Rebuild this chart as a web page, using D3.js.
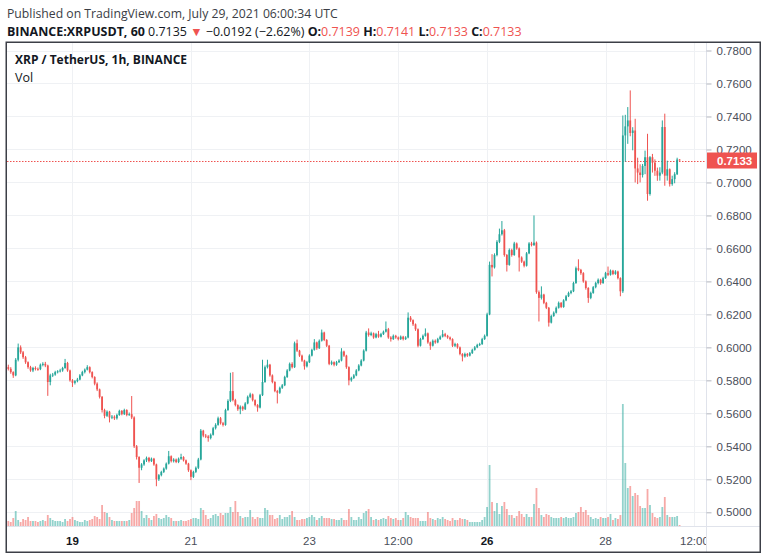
<!DOCTYPE html>
<html><head><meta charset="utf-8">
<script src="https://cdn.jsdelivr.net/npm/d3@7"></script>
<style>body{margin:0;background:#fff}svg{display:block}</style>
</head><body>
<svg id="chart" width="768" height="560"></svg>
<script>
// ---------- DATA (hourly candles, BINANCE:XRPUSDT) ----------
const startTime = Date.UTC(2021, 6, 17, 22); // first candle
const firstOpen = 0.5880;
const closes = [
0.5870,0.5850,0.5830,0.5925,0.6000,0.5970,0.5940,0.5910,0.5880,0.5860,
0.5875,0.5870,0.5868,0.5895,0.5900,0.5890,0.5790,0.5830,0.5835,0.5850,
0.5855,0.5860,0.5875,0.5905,0.5860,0.5800,0.5785,0.5795,0.5805,0.5830,
0.5850,0.5865,0.5880,0.5850,0.5820,0.5780,0.5745,0.5700,0.5620,0.5585,
0.5610,0.5575,0.5580,0.5570,0.5590,0.5615,0.5595,0.5620,0.5590,0.5595,
0.5575,0.5400,0.5335,0.5270,0.5290,0.5315,0.5330,0.5310,0.5325,0.5290,
0.5200,0.5225,0.5245,0.5265,0.5295,0.5340,0.5310,0.5320,0.5305,0.5325,
0.5335,0.5315,0.5295,0.5255,0.5215,0.5245,0.5270,0.5320,0.5495,0.5465,
0.5460,0.5450,0.5470,0.5510,0.5530,0.5570,0.5540,0.5530,0.5620,0.5675,
0.5735,0.5680,0.5650,0.5625,0.5640,0.5625,0.5660,0.5700,0.5715,0.5680,
0.5650,0.5635,0.5710,0.5790,0.5880,0.5895,0.5830,0.5790,0.5735,0.5725,
0.5755,0.5770,0.5820,0.5860,0.5900,0.5880,0.6025,0.5980,0.5950,0.5920,
0.5885,0.5910,0.5950,0.5985,0.6030,0.5995,0.6040,0.6090,0.6045,0.6010,
0.5900,0.5910,0.5895,0.5910,0.5920,0.5975,0.5950,0.5880,0.5800,0.5815,
0.5830,0.5860,0.5890,0.5920,0.5980,0.6090,0.6075,0.6085,0.6060,0.6080,
0.6065,0.6080,0.6095,0.6110,0.6060,0.6050,0.6070,0.6060,0.6050,0.6065,
0.6050,0.6060,0.6180,0.6165,0.6140,0.6110,0.6010,0.6050,0.6070,0.6085,
0.6030,0.6010,0.6040,0.6030,0.6050,0.6065,0.6080,0.6070,0.6060,0.6050,
0.6010,0.6020,0.6000,0.5960,0.5945,0.5960,0.5950,0.5965,0.5985,0.6000,
0.6015,0.6020,0.6050,0.6070,0.6200,0.6500,0.6485,0.6560,0.6640,0.6686,
0.6710,0.6560,0.6500,0.6590,0.6560,0.6630,0.6600,0.6545,0.6520,0.6495,
0.6570,0.6630,0.6620,0.6635,0.6335,0.6300,0.6320,0.6270,0.6240,0.6150,
0.6190,0.6210,0.6240,0.6270,0.6245,0.6285,0.6310,0.6330,0.6340,0.6390,
0.6480,0.6470,0.6450,0.6400,0.6360,0.6300,0.6330,0.6365,0.6390,0.6410,
0.6390,0.6420,0.6450,0.6440,0.6465,0.6445,0.6460,0.6420,0.6340,0.7285,
0.7340,0.7376,0.7300,0.7315,0.7085,0.7060,0.7045,0.7100,0.7153,0.6930,
0.7153,0.7120,0.7071,0.7041,0.7060,0.7336,0.7041,0.7080,0.6990,0.7020,
0.7050,0.7139,0.7133
];
const highs = [
0.5895,0.5880,0.5855,0.5935,0.6023,0.6012,0.5978,0.5948,0.5915,0.5888,
0.5882,0.5885,0.5878,0.5902,0.5910,0.5912,0.5895,0.5840,0.5845,0.5858,
0.5862,0.5870,0.5882,0.5930,0.5912,0.5865,0.5808,0.5802,0.5815,0.5838,
0.5858,0.5872,0.5892,0.5885,0.5855,0.5825,0.5788,0.5750,0.5705,0.5628,
0.5618,0.5615,0.5590,0.5588,0.5598,0.5622,0.5620,0.5628,0.5625,0.5605,
0.5705,0.5582,0.5408,0.5340,0.5298,0.5322,0.5338,0.5336,0.5332,0.5330,
0.5295,0.5232,0.5252,0.5272,0.5302,0.5372,0.5345,0.5328,0.5326,0.5332,
0.5355,0.5340,0.5320,0.5300,0.5260,0.5252,0.5278,0.5330,0.5505,0.5500,
0.5475,0.5468,0.5478,0.5518,0.5540,0.5580,0.5578,0.5548,0.5628,0.5685,
0.5846,0.5850,0.5688,0.5655,0.5648,0.5646,0.5668,0.5708,0.5725,0.5720,
0.5685,0.5656,0.5718,0.5925,0.5890,0.5925,0.5900,0.5836,0.5795,0.5742,
0.5762,0.5778,0.5828,0.5868,0.5908,0.5910,0.6035,0.6047,0.5985,0.5956,
0.5925,0.5918,0.5958,0.5992,0.6050,0.6035,0.6048,0.6108,0.6095,0.6050,
0.6015,0.5920,0.5915,0.5918,0.5928,0.5995,0.5980,0.5955,0.5885,0.5822,
0.5838,0.5868,0.5898,0.5928,0.5988,0.6100,0.6115,0.6095,0.6090,0.6088,
0.6100,0.6088,0.6102,0.6157,0.6118,0.6068,0.6078,0.6076,0.6066,0.6072,
0.6070,0.6068,0.6212,0.6190,0.6170,0.6145,0.6115,0.6058,0.6078,0.6115,
0.6090,0.6035,0.6048,0.6048,0.6058,0.6072,0.6105,0.6088,0.6076,0.6066,
0.6055,0.6028,0.6025,0.6005,0.5965,0.5968,0.5966,0.5972,0.5992,0.6008,
0.6022,0.6028,0.6058,0.6078,0.6210,0.6520,0.6565,0.6570,0.6650,0.6720,
0.6766,0.6718,0.6566,0.6600,0.6598,0.6640,0.6636,0.6606,0.6552,0.6526,
0.6578,0.6638,0.6640,0.6800,0.6642,0.6345,0.6370,0.6325,0.6276,0.6245,
0.6198,0.6218,0.6248,0.6278,0.6275,0.6292,0.6318,0.6338,0.6348,0.6398,
0.6490,0.6534,0.6476,0.6456,0.6406,0.6365,0.6338,0.6372,0.6398,0.6418,
0.6416,0.6428,0.6458,0.6490,0.6472,0.6470,0.6468,0.6465,0.6425,0.7406,
0.7410,0.7457,0.7558,0.7335,0.7386,0.7150,0.7110,0.7112,0.7193,0.7295,
0.7160,0.7173,0.7140,0.7090,0.7092,0.7376,0.7417,0.7132,0.7085,0.7041,
0.7062,0.7150,0.7141
];
const lows = [
0.5860,0.5840,0.5815,0.5825,0.5915,0.5960,0.5930,0.5900,0.5870,0.5852,
0.5850,0.5860,0.5858,0.5862,0.5885,0.5880,0.5706,0.5770,0.5820,0.5828,
0.5842,0.5848,0.5852,0.5870,0.5852,0.5792,0.5760,0.5775,0.5788,0.5800,
0.5825,0.5842,0.5860,0.5842,0.5812,0.5770,0.5735,0.5690,0.5605,0.5570,
0.5578,0.5545,0.5565,0.5560,0.5562,0.5585,0.5588,0.5590,0.5582,0.5585,
0.5565,0.5390,0.5320,0.5178,0.5255,0.5282,0.5305,0.5302,0.5305,0.5282,
0.5158,0.5190,0.5218,0.5238,0.5258,0.5290,0.5302,0.5302,0.5298,0.5298,
0.5318,0.5308,0.5288,0.5245,0.5195,0.5208,0.5238,0.5262,0.5315,0.5455,
0.5450,0.5428,0.5442,0.5465,0.5502,0.5525,0.5532,0.5520,0.5525,0.5615,
0.5668,0.5672,0.5642,0.5615,0.5595,0.5615,0.5620,0.5655,0.5692,0.5672,
0.5642,0.5610,0.5630,0.5705,0.5785,0.5872,0.5822,0.5782,0.5728,0.5660,
0.5718,0.5748,0.5765,0.5815,0.5855,0.5872,0.5875,0.5972,0.5942,0.5912,
0.5865,0.5878,0.5905,0.5945,0.5980,0.5985,0.5990,0.6035,0.6038,0.6002,
0.5892,0.5892,0.5885,0.5888,0.5905,0.5915,0.5942,0.5870,0.5770,0.5792,
0.5808,0.5825,0.5855,0.5885,0.5915,0.5975,0.6065,0.6068,0.6052,0.6055,
0.6058,0.6060,0.6075,0.6090,0.6052,0.6035,0.6045,0.6052,0.6042,0.6045,
0.6042,0.6045,0.6055,0.6155,0.6130,0.6100,0.6000,0.6005,0.6045,0.6065,
0.6022,0.5985,0.6005,0.6022,0.6025,0.6045,0.6060,0.6062,0.6052,0.6042,
0.6002,0.6002,0.5992,0.5952,0.5915,0.5938,0.5942,0.5945,0.5960,0.5980,
0.5995,0.6008,0.6015,0.6045,0.6065,0.6195,0.6430,0.6478,0.6552,0.6632,
0.6678,0.6550,0.6460,0.6495,0.6550,0.6555,0.6592,0.6460,0.6512,0.6485,
0.6490,0.6565,0.6612,0.6615,0.6325,0.6157,0.6290,0.6262,0.6232,0.6126,
0.6145,0.6185,0.6205,0.6235,0.6238,0.6240,0.6280,0.6305,0.6322,0.6335,
0.6385,0.6462,0.6440,0.6392,0.6350,0.6270,0.6292,0.6325,0.6358,0.6382,
0.6380,0.6385,0.6415,0.6432,0.6435,0.6438,0.6440,0.6412,0.6310,0.6330,
0.7125,0.7234,0.7280,0.7195,0.7000,0.6990,0.7000,0.7030,0.7050,0.6889,
0.6920,0.7060,0.7040,0.7010,0.7011,0.7050,0.6980,0.7011,0.6975,0.6980,
0.6995,0.7045,0.7133
];
// volume, millions of XRP (estimated)
const volumes = [
2.5,2,4,7.5,3,2,3.5,3,4.5,2.5,2.5,2.5,2,2.5,3,2.5,5.5,4,3,2.5,
2.5,2.5,2,3.5,2.5,3.5,4.5,3,2.5,2,2,3,2.5,3,3.5,5,4.5,3.5,10.5,7,
6.5,4.5,3,2.5,2.5,2.5,2.5,2.5,2.5,3,6.5,9,12.5,12.5,7.5,4,5.5,4,3,5,
6,4,3.5,4,5.5,4.5,4,2.5,2.5,2.5,3,2.5,2.5,3,3.5,4,4,3.5,9,8,
5.5,3.5,4,5.5,6,5,6.5,5.5,6.5,6.5,9.5,7,12.5,7,5,4,4.5,4.5,8,4.5,
3.5,4.5,4,4,9,8,5.5,5.5,3.5,4,5.5,3.5,4.5,4.5,5.5,7.5,4.5,3,3,3.5,
3.5,4,4.5,5.5,4.5,3,4,5,4,4,4,3.5,3.5,3,3,4,3,3,8.5,4.5,
3,3,4.5,3.5,6.5,7.5,8.5,4.5,3,3.5,3,3.5,4,3.5,5,4,3.5,4,3,3,
4,7,5.5,4.5,4,4,4,2.5,2.5,2.5,7,4,3.5,3,4,3.5,4.5,3.5,3,2.5,
4,3,3,4,3.5,3.5,3,2,2,2,2,2,3,4.5,9.5,30.5,12,7.5,11.5,6,
10,12,8.5,5.5,5.5,4,5,7.5,6,4.5,6,4.5,4.5,11,19,9,5.5,4.5,6,5.5,
4.5,4,4,4,4.5,4,4.5,4,4,4.5,6.5,7,9.5,7,8,5.5,4.5,3.5,4,3.5,
4.5,4,4,4.5,6,3,4,3.5,5.5,61,31.5,19,20,15,16.5,15.5,10,9,9,18.5,
10.5,6.5,4.5,4,4.5,9.5,14.5,5.5,4.5,4.5,4.5,5,0.5
];
const priceTicks = [0.50,0.52,0.54,0.56,0.58,0.60,0.62,0.64,0.66,0.68,0.70,0.72,0.74,0.76,0.78];
const timeTicks = [Date.UTC(2021,6,19), Date.UTC(2021,6,21), Date.UTC(2021,6,23), Date.UTC(2021,6,24,12),
                   Date.UTC(2021,6,26), Date.UTC(2021,6,28), Date.UTC(2021,6,29,12)];
const timeTickLabels = ["19","21","23","12:00","26","28","12:00"];
const boldTickLabels = ["19","26"];
const lastPrice = 0.7133;
const headerLine1 = "Published on TradingView.com, July 29, 2021 06:00:34 UTC";
const headerParts = [
  ["BINANCE:XRPUSDT, 60 ", "b"], ["0.7135 ", "n"], ["\u25BC", "r"], [" \u22120.0192 (\u22122.62%) ", "n"],
  ["O:", "b"], ["0.7139 ", "r"], ["H:", "b"], ["0.7141 ", "r"], ["L:", "b"], ["0.7133 ", "r"],
  ["C:", "b"], ["0.7133", "r"]
];
const legendTitle = "XRP / TetherUS, 1h, BINANCE";
const legendVol = "Vol";

// ---------- BUILD ----------
const UP = "#26a69a", DN = "#ef5350";
const candles = closes.map((c, i) => ({
  t: new Date(startTime + i * 3600e3),
  o: i === 0 ? firstOpen : closes[i - 1],
  h: highs[i], l: lows[i], c: c, v: volumes[i]
}));

const svg = d3.select("#chart");
const font = "'Open Sans', 'Noto Sans', sans-serif";
const axisFont = "'Liberation Sans', Arial, sans-serif";

const plotL = 7, plotR = 706, plotT = 43, plotB = 526;

const x = d3.scaleUtc()
  .domain([candles[0].t, candles[candles.length - 1].t])
  .range([8.3, 679.6]);
const y = d3.scaleLinear().domain([0.50, 0.78]).range([512.3, 50.5]);
const yv = d3.scaleLinear().domain([0, 61]).range([plotB, plotB - 122]);

svg.append("rect").attr("width", 768).attr("height", 560).attr("fill", "#fff");

const defs = svg.append("defs");
defs.append("clipPath").attr("id", "plotclip")
  .append("rect").attr("x", plotL).attr("y", plotT).attr("width", plotR - plotL).attr("height", plotB - plotT);
defs.append("clipPath").attr("id", "xclip")
  .append("rect").attr("x", plotL).attr("y", plotB).attr("width", plotR - plotL).attr("height", 25);

// grid
const grid = svg.append("g").attr("clip-path", "url(#plotclip)");
grid.selectAll("line.h").data(priceTicks).join("line")
  .attr("x1", plotL).attr("x2", plotR)
  .attr("y1", d => Math.round(y(d)) + 0.5).attr("y2", d => Math.round(y(d)) + 0.5)
  .attr("stroke", "#eff1f4").attr("stroke-width", 1);
grid.selectAll("line.v").data(timeTicks).join("line")
  .attr("y1", plotT).attr("y2", plotB)
  .attr("x1", d => Math.round(x(new Date(d))) + 0.5).attr("x2", d => Math.round(x(new Date(d))) + 0.5)
  .attr("stroke", "#eff1f4").attr("stroke-width", 1);

// volume
const bw = 1.8;
const gPlot = svg.append("g").attr("clip-path", "url(#plotclip)");
gPlot.append("g").selectAll("rect").data(candles).join("rect")
  .attr("x", d => x(d.t) - bw / 2)
  .attr("width", bw)
  .attr("y", d => yv(d.v))
  .attr("height", d => Math.max(0.6, plotB - yv(d.v)))
  .attr("fill", d => d.c >= d.o ? "rgba(38,166,154,0.5)" : "rgba(239,83,80,0.5)");

// last price line
gPlot.append("line")
  .attr("x1", plotL).attr("x2", plotR)
  .attr("y1", Math.round(y(lastPrice)) + 0.5).attr("y2", Math.round(y(lastPrice)) + 0.5)
  .attr("stroke", DN).attr("stroke-width", 1).attr("stroke-dasharray", "1.5,1.5");

// candles
const gC = gPlot.append("g");
gC.selectAll("line").data(candles).join("line")
  .attr("x1", d => x(d.t)).attr("x2", d => x(d.t))
  .attr("y1", d => y(d.h)).attr("y2", d => y(d.l))
  .attr("stroke", d => d.c >= d.o ? UP : DN).attr("stroke-width", 1);
gC.selectAll("rect").data(candles).join("rect")
  .attr("x", d => x(d.t) - bw / 2).attr("width", bw)
  .attr("y", d => y(Math.max(d.o, d.c)))
  .attr("height", d => Math.max(1, Math.abs(y(d.o) - y(d.c))))
  .attr("fill", d => d.c >= d.o ? UP : DN);

// separators
svg.append("line").attr("x1", plotL).attr("x2", 760).attr("y1", plotB + 0.5).attr("y2", plotB + 0.5)
  .attr("stroke", "#e0e3eb");
svg.append("line").attr("x1", plotR + 0.5).attr("x2", plotR + 0.5).attr("y1", 42).attr("y2", 552)
  .attr("stroke", "#e0e3eb");

// price axis
const yAxis = d3.axisRight(y).tickValues(priceTicks).tickFormat(d3.format(".4f")).tickSize(5).tickPadding(5);
const gy = svg.append("g").attr("transform", `translate(${plotR + 0.5},0)`).call(yAxis);
gy.select(".domain").remove();
gy.selectAll(".tick line").attr("stroke", "#b2b5be");
gy.selectAll(".tick text").attr("font-family", axisFont).attr("font-size", 11.5).attr("fill", "#4a4e59");

// last price label
const ly = y(lastPrice);
svg.append("rect").attr("x", 707).attr("y", ly - 8).attr("width", 50).attr("height", 16).attr("fill", DN);
svg.append("text").attr("x", 717).attr("y", ly + 4).text(d3.format(".4f")(lastPrice))
  .attr("font-family", axisFont).attr("font-size", 11.5).attr("font-weight", "bold").attr("fill", "#fff");

// time axis
const gx = svg.append("g").attr("clip-path", "url(#xclip)");
gx.selectAll("text").data(timeTicks).join("text")
  .attr("x", d => x(new Date(d))).attr("y", 545)
  .attr("text-anchor", "middle")
  .attr("font-family", axisFont).attr("font-size", 11.5)
  .attr("font-weight", (d, i) => boldTickLabels.includes(timeTickLabels[i]) ? "bold" : "normal")
  .attr("fill", (d, i) => boldTickLabels.includes(timeTickLabels[i]) ? "#131722" : "#4a4e59")
  .text((d, i) => timeTickLabels[i]);

// frame
svg.append("rect").attr("x", 6.25).attr("y", 42.25).attr("width", 754).attr("height", 510)
  .attr("fill", "none").attr("stroke", "#3c3f47").attr("stroke-width", 1.5);

// helper: scale font so the text spans a target width (no glyph overlap)
function fitWidth(sel, target, base) {
  const w = sel.node().getComputedTextLength();
  if (w > 0) sel.attr("font-size", (base * target / w).toFixed(2));
}

// header
const h1 = svg.append("text").attr("x", 7).attr("y", 18).attr("font-family", font).attr("font-size", 13)
  .attr("fill", "#3a3d45").text(headerLine1);
fitWidth(h1, 331, 13);
const h2 = svg.append("text").attr("x", 7).attr("y", 36).attr("font-family", font).attr("font-size", 13);
headerParts.forEach(([t, s]) => {
  h2.append("tspan").text(t)
    .attr("font-weight", s === "b" ? "bold" : "normal")
    .attr("fill", s === "r" ? DN : "#131722");
});
fitWidth(h2, 515, 13);

// legend
const lg = svg.append("text").attr("x", 15).attr("y", 64).attr("font-family", font).attr("font-size", 13)
  .attr("font-weight", "bold").attr("fill", "#131722").text(legendTitle);
fitWidth(lg, 172, 13);
svg.append("text").attr("x", 15).attr("y", 82).attr("font-family", font).attr("font-size", 12.5)
  .attr("fill", "#131722").text(legendVol);
</script>
</body></html>
